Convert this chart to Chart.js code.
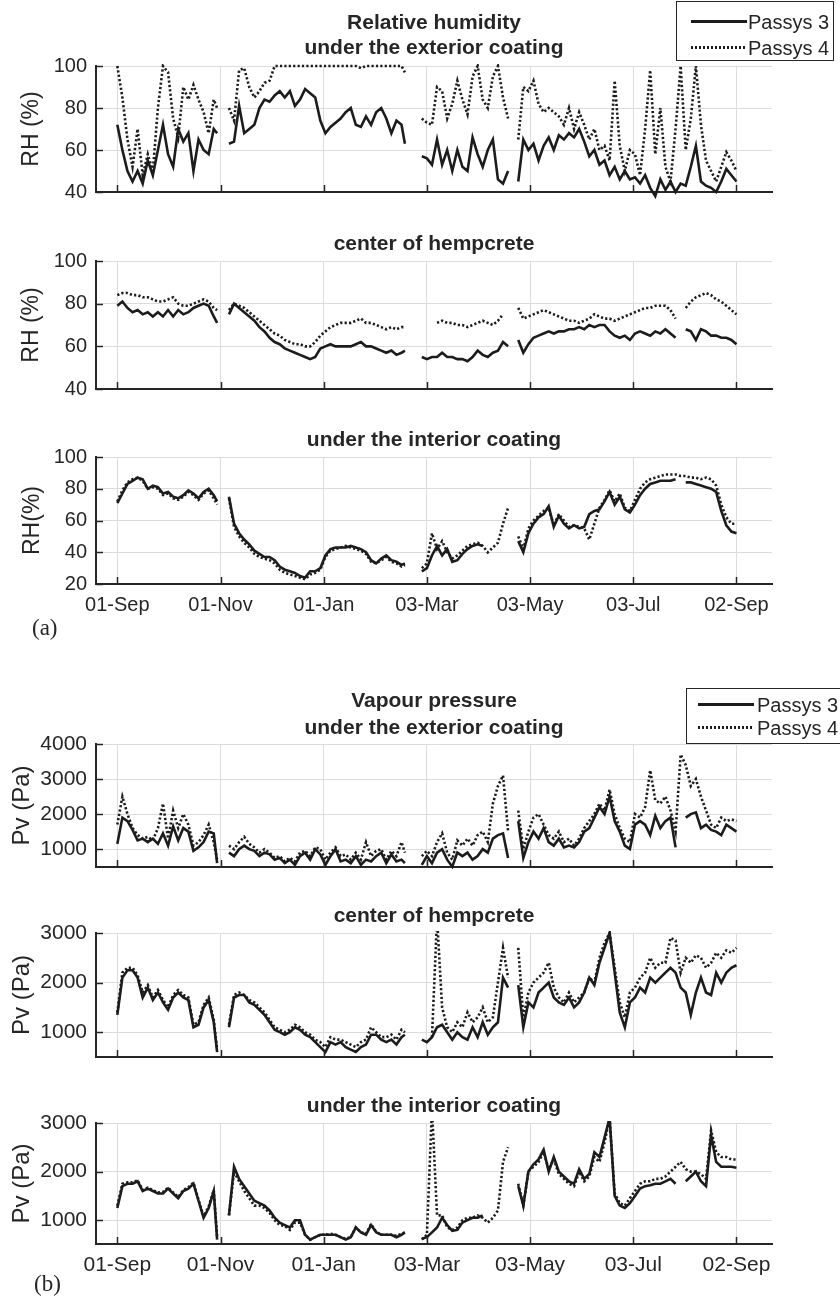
<!DOCTYPE html>
<html>
<head>
<meta charset="utf-8">
<script src="https://cdn.jsdelivr.net/npm/chart.js@4.4.1/dist/chart.umd.min.js"></script>
<style>
  body { margin: 0; background: #fff; }
  #page { position: relative; width: 840px; height: 1299px; overflow: hidden; background: #fff;
          font-family: "Liberation Sans", Arial, sans-serif; color: #262626; }
  canvas { position: absolute; left: 0; top: 0; }
  .title { position: absolute; left: 96px; width: 676px; text-align: center; font-weight: bold;
           font-size: 21px; line-height: 24px; height: 24px; white-space: nowrap; }
  .legend { position: absolute; border: 1.5px solid #262626; background: #fff; box-sizing: border-box; }
  .legend .row { position: absolute; left: 0; height: 24px; line-height: 24px; font-size: 20px; white-space: nowrap; }
  .legend .sample { position: absolute; top: 10px; height: 3px; }
  .legend .solid { background: #1c1c1c; }
  .legend .dotted { background: repeating-linear-gradient(90deg, #1c1c1c 0 2px, transparent 2px 4px); }
  .panel { position: absolute; font-family: "Liberation Serif", "Times New Roman", serif; font-size: 23px; }
</style>
</head>
<body>
<div id="page">
  <canvas id="c1" width="840" height="1299"></canvas>
  <canvas id="c2" width="840" height="1299"></canvas>
  <canvas id="c3" width="840" height="1299"></canvas>
  <canvas id="c4" width="840" height="1299"></canvas>
  <canvas id="c5" width="840" height="1299"></canvas>
  <canvas id="c6" width="840" height="1299"></canvas>

  <div class="title" style="top:10px">Relative humidity</div>
  <div class="title" style="top:35px">under the exterior coating</div>
  <div class="title" style="top:231px">center of hempcrete</div>
  <div class="title" style="top:427px">under the interior coating</div>
  <div class="title" style="top:688px">Vapour pressure</div>
  <div class="title" style="top:715px">under the exterior coating</div>
  <div class="title" style="top:903px">center of hempcrete</div>
  <div class="title" style="top:1093px">under the interior coating</div>

  <div class="legend" id="leg1" style="left:676px; top:1px; width:158px; height:60px;"></div>
  <div class="legend" id="leg2" style="left:686px; top:688px; width:170px; height:56px;"></div>

  <div class="panel" style="left:32px; top:615px;">(a)</div>
  <div class="panel" style="left:34px; top:1271px;">(b)</div>
</div>
<script>
// day number counted from 01-Sep; null rows split the measurement gaps
const days = [
  0, 3, 6, 9, 12, 15, 18, 21, 24, 27, 30, 33, 36, 39, 42, 45, 48, 51, 54, 57, 59,
  62,
  66, 69, 72, 75, 78, 81, 84, 87, 90, 93, 96, 99, 102, 105, 108, 111, 114, 117, 120, 123,
  126, 129, 132, 135, 138, 141, 144, 147, 150, 153, 156, 159, 162, 165, 168, 170,
  175,
  180, 183, 186, 189, 192, 195, 198, 201, 204, 207, 210, 213, 216, 219, 222, 225, 228, 231,
  234,
  237, 240, 243, 246, 249, 252, 255, 258, 261, 264, 267, 270, 273, 276, 279, 282, 285, 288,
  291, 294, 297, 300, 303, 306, 309, 312, 315, 318, 321, 324, 327, 330, 333, 336, 339, 342,
  345, 348, 351, 354, 357, 360, 363, 366
];
const xTickDays = [0, 61, 122, 183, 244, 305, 366];
const xTickLabels = ['01-Sep', '01-Nov', '01-Jan', '03-Mar', '03-May', '03-Jul', '02-Sep'];
const seriesNames = ['Passys 3', 'Passys 4'];

const rhTicks = [40, 60, 80, 100];
const rhIntTicks = [20, 40, 60, 80, 100];
const pvExtTicks = [1000, 2000, 3000, 4000];
const pvTicks = [1000, 2000, 3000];

// RH under the exterior coating
const rhExt3 = [
  72, 60, 50, 45, 50, 44, 55, 48, 60, 72, 58, 52, 70, 64, 68, 50, 65, 60, 58, 70, 68,
  null,
  63, 64, 81, 68, 70, 72, 80, 84, 83, 86, 88, 85, 88, 81, 84, 89, 87, 85, 74, 68,
  71, 73, 75, 78, 80, 72, 71, 76, 72, 78, 80, 75, 68, 74, 72, 63,
  null,
  57, 56, 53, 65, 53, 60, 50, 60, 52, 50, 66, 58, 52, 60, 65, 46, 44, 50,
  null,
  45, 65, 60, 63, 55, 62, 66, 60, 67, 65, 68, 66, 70, 64, 57, 60, 53, 55, 48, 52,
  46, 50, 46, 47, 44, 48, 42, 38, 46, 41, 45, 40, 44, 43, 52, 62, 45, 43, 42, 40,
  45, 51, 48, 45
];
const rhExt4 = [
  100, 85, 65, 52, 70, 48, 58, 50, 80, 100, 97, 75, 66, 90, 84, 91, 84, 78, 68, 84, 80,
  null,
  80, 74, 98, 99, 90, 85, 88, 92, 93, 100, 100, 100, 100, 100, 100, 100, 100, 100, 100, 100,
  100, 100, 100, 100, 100, 100, 99, 100, 100, 100, 100, 100, 100, 100, 100, 97,
  null,
  75, 73, 72, 90, 88, 75, 82, 93, 84, 77, 95, 100, 84, 80, 95, 100, 85, 75,
  null,
  65, 90, 88, 93, 82, 78, 80, 78, 76, 72, 80, 70, 78, 72, 65, 70, 60, 62, 55, 93,
  62, 50, 60, 58, 48, 70, 98, 58, 80, 52, 45, 70, 100, 60, 75, 100, 72, 55, 50, 45,
  52, 59, 55, 50
];

// RH at the center of hempcrete
const rhMid3 = [
  79, 81, 78, 76, 77, 75, 76, 74, 76, 74, 77, 74, 77, 75, 76, 78, 79, 80, 79, 74, 71,
  null,
  75, 80, 78, 76, 74, 72, 69, 67, 64, 62, 61, 59, 58, 57, 56, 55, 54, 55, 59, 60,
  61, 60, 60, 60, 60, 61, 62, 60, 60, 59, 58, 57, 58, 56, 57, 58,
  null,
  55, 54, 55, 55, 57, 55, 55, 54, 54, 53, 55, 58, 56, 55, 57, 58, 62, 60,
  null,
  63, 57, 61, 64, 65, 66, 67, 66, 67, 67, 68, 68, 69, 68, 70, 69, 70, 70, 67, 65,
  64, 65, 63, 66, 67, 66, 65, 67, 66, 68, 66, 64, null, 68, 67, 63, 68, 67, 65, 65,
  64, 64, 63, 61
];
const rhMid4 = [
  84, 85, 85, 84, 84, 83, 83, 82, 81, 81, 82, 83, 80, 79, 79, 80, 81, 82, 81, 78, 77,
  null,
  77, 80, 79, 78, 76, 74, 72, 70, 68, 66, 65, 63, 62, 61, 61, 60, 60, 62, 65, 67,
  69, 70, 71, 71, 71, 72, 73, 71, 71, 70, 69, 68, 69, 68, 69, 69,
  null,
  null, null, null, 71, 72, 71, 71, 70, 70, 69, 70, 71, 72, 71, 70, 72, 75, null,
  null,
  78, 73, 74, 75, 76, 77, 76, 75, 74, 73, 72, 72, 71, 72, 73, 75, 74, 73, 73, 72,
  73, 74, 75, 76, 77, 78, 78, 79, 79, 79, 77, 73, null, 78, 81, 83, 84, 85, 84, 82,
  81, 79, 77, 75
];

// RH under the interior coating
const rhInt3 = [
  71, 77, 83, 85, 87, 86, 80, 82, 81, 77, 78, 75, 74, 76, 79, 77, 74, 78, 80, 76, 72,
  null,
  75, 58, 52, 48, 45, 41, 39, 37, 37, 35, 31, 29, 28, 27, 25, 24, 28, 28, 30, 38,
  42, 43, 43, 43, 44, 43, 42, 40, 35, 33, 36, 38, 35, 34, 32, 33,
  null,
  28, 30, 38, 44, 38, 42, 34, 35, 39, 42, 44, 45, 44, null, null, null, null, null,
  null,
  47, 40, 52, 58, 62, 64, 69, 56, 63, 58, 55, 57, 55, 56, 64, 66, 67, 72, 78, 70,
  75, 67, 65, 70, 76, 80, 83, 84, 85, 85, 85, 86, null, 84, 84, 83, 82, 81, 80, 78,
  66, 57, 53, 52
];
const rhInt4 = [
  72, 79, 84, 86, 87, 85, 80, 81, 80, 76, 77, 74, 73, 75, 78, 76, 73, 77, 79, 74, 70,
  null,
  74, 56, 50, 46, 43, 39, 37, 36, 35, 33, 29, 27, 26, 25, 24, 23, 26, 27, 29, 37,
  41, 42, 43, 44, 43, 42, 41, 39, 34, 33, 35, 37, 34, 33, 31, 32,
  null,
  30, 33, 52, 42, 47, 40, 36, 38, 41, 44, 45, 46, 44, 40, 43, 46, 58, 68,
  null,
  50, 42, 55, 60, 63, 66, 68, 57, 64, 60, 56, 57, 56, 55, 48, 58, 68, 73, 79, 72,
  77, 68, 66, 73, 80, 84, 86, 87, 88, 89, 89, 89, 88, 88, 87, 87, 86, 87, 86, 82,
  70, 62, 58, 58
];

// vapour pressure under the exterior coating
const pvExt3 = [
  1150, 1900, 1800, 1550, 1250, 1300, 1200, 1300, 1150, 1450,
  1100, 1650, 1250, 1600, 1500, 950, 1050, 1200, 1500, 1450, 600,
  null,
  900, 800, 1000, 1100, 1000, 950, 800, 900, 850, 700, 750, 600, 700, 550, 800, 900, 700, 1000,
  850, 550, 800, 1000, 650, 700, 600, 800, 550, 700, 650, 800, 900, 600, 850, 650, 700, 600,
  null,
  550, 800, 600, 900, 1000, 700, 500, 900, 800, 900, 700, 800, 1000, 900, 1300, 1400, 1450, 750,
  null,
  1800, 750, 1200, 1500, 1300, 1600, 1200, 1100, 1300, 1050, 1100, 1050, 1200, 1500, 1600,
  1900, 2200, 2000, 2500, 1800, 1500, 1100, 1000, 1700, 1800, 1700, 1400, 1950, 1600, 1800,
  1900, 1050, null, 1900, 2000, 2050, 1600, 1700, 1550, 1500, 1400, 1700, 1600, 1500
];
const pvExt4 = [
  1700, 2500, 2000, 1600, 1400, 1300, 1350, 1250, 1600, 2300,
  1300, 2100, 1600, 2000, 1700, 1100, 1200, 1400, 1700, 1200, 700,
  null,
  1100, 1000, 1200, 1350, 1150, 1050, 900, 1000, 900, 750, 800, 650, 750, 650, 900, 950, 800,
  1050, 1000, 700, 900, 1050, 800, 850, 700, 900, 700, 1200, 800, 950, 1000, 700, 950, 800,
  1200, 900,
  null,
  800, 950, 800, 1200, 1450, 900, 700, 1250, 1100, 1300, 1100, 1400, 1500, 1200, 2300, 2800,
  3100, 1500,
  null,
  2100, 1000, 1500, 1900, 2000, 1700, 1400, 1300, 1500, 1200, 1300, 1100, 1300, 1600, 1800,
  2000, 2300, 2100, 2700, 2000, 1600, 1300, 1200, 2000, 1900, 2200, 3250, 2400, 2300, 2500,
  2100, 1500, 3700, 3400, 2800, 3000, 2500, 2100, 1700, 1600, 1900, 1800, 1850, 1800
];

// vapour pressure at the center of hempcrete
const pvMid3 = [
  1350, 2100, 2250, 2250, 2100, 1700, 1900, 1650, 1800, 1600,
  1450, 1700, 1800, 1700, 1650, 1100, 1150, 1500, 1650, 1200, 600,
  null,
  1100, 1700, 1750, 1750, 1600, 1550, 1450, 1350, 1200, 1050, 1000, 950, 1000, 1100, 1050,
  950, 900, 800, 700, 600, 800, 750, 800, 700, 650, 600, 700, 750, 950, 950, 850, 800, 850,
  750, 900, 950,
  null,
  850, 800, 900, 1100, 1150, 1000, 850, 1000, 900, 850, 1100, 900, 1200, 950, 1100, 1200,
  2100, 1900,
  null,
  1950, 1100, 1600, 1500, 1800, 1900, 2000, 1700, 1600, 1550, 1700, 1500, 1600, 1800, 2100,
  1950, 2400, 2700, 3000, 2200, 1400, 1100, 1600, 1700, 1900, 1800, 2100, 2000, 2100, 2200,
  2300, 2200, 1900, 1800, 1350, 1800, 2100, 1800, 1750, 2200, 2000, 2200, 2300, 2350
];
const pvMid4 = [
  1400, 2200, 2300, 2300, 2150, 1800, 1950, 1700, 1850, 1650,
  1500, 1750, 1850, 1750, 1700, 1150, 1200, 1550, 1700, 1250, 650,
  null,
  1150, 1750, 1800, 1750, 1650, 1600, 1500, 1400, 1250, 1100, 1050, 1000, 1050, 1150, 1100,
  1000, 950, 850, 800, 700, 900, 850, 850, 800, 750, 700, 800, 850, 1100, 1000, 900, 900, 950,
  850, 1050, 1000,
  null,
  null, null, 900, 3300, 1500, 1100, 1000, 1200, 1100, 1400, 1200, 1300, 1500, 1200, 1300,
  2000, 2700, 2100,
  null,
  2700, 1300, 1800, 2000, 2100, 2200, 2400, 1900, 1700, 1600, 1800, 1600, 1700, 1800, 2100,
  2000, 2500, 2800, 3000, 2300, 1600, 1300, 1800, 1900, 2100, 2200, 2500, 2300, 2400, 2400,
  2900, 2850, 2200, 2500, 2400, 2550, 2500, 2300, 2400, 2600, 2500, 2650, 2600, 2700
];

// vapour pressure under the interior coating
const pvInt3 = [
  1250, 1700, 1750, 1750, 1800, 1600, 1650, 1600, 1550, 1550,
  1650, 1550, 1450, 1600, 1650, 1750, 1400, 1050, 1250, 1600, 600,
  null,
  1100, 2100, 1850, 1700, 1550, 1400, 1350, 1300, 1200, 1050, 950, 900, 850, 1000, 1000, 700,
  600, 650, 700, 700, 700, 700, 650, 600, 650, 850, 750, 700, 900, 750, 700, 700, 700, 650,
  700, 750,
  null,
  620, 650, 750, 850, 1050, 900, 780, 800, 950, 1000, 1050, 1050, 1100, null, null, null,
  null, null,
  null,
  1700, 1300, 2000, 2150, 2250, 2450, 2000, 2300, 2000, 1900, 1800, 1750, 2050, 1850, 1950,
  2400, 2300, 2700, 3100, 1500, 1300, 1250, 1350, 1500, 1650, 1700, 1720, 1750, 1750, 1800,
  1850, 1750, null, 1800, 1900, 2000, 1800, 1700, 2750, 2200, 2100, 2100, 2100, 2080
];
const pvInt4 = [
  1300, 1750, 1780, 1780, 1820, 1620, 1670, 1620, 1570, 1580,
  1670, 1570, 1480, 1620, 1680, 1770, 1420, 1080, 1280, 1620, 650,
  null,
  1100, 2000, 1800, 1600, 1450, 1300, 1300, 1250, 1150, 1000, 900, 880, 800, 950, 950, 700,
  600, 650, 700, 700, 720, 700, 650, 620, 650, 850, 750, 720, 920, 760, 700, 700, 700, 680,
  720, 750,
  null,
  600, 700, 3300, 1100, 1100, 850, 800, 850, 1000, 1050, 1050, 1100, 1050, 950, 1050, 1200,
  2200, 2500,
  null,
  1750, 1300, 2000, 2100, 2200, 2400, 2050, 2250, 1950, 1850, 1750, 1700, 2000, 1800, 1900,
  2300, 2200, 2600, 3100, 1550, 1350, 1300, 1450, 1600, 1750, 1800, 1800, 1850, 1850, 1900,
  2000, 2100, 2200, 2050, 2000, 2000, 1950, 1850, 2850, 2400, 2300, 2300, 2250, 2250
];

const H = 1299;
const X_MIN = -12.6, X_MAX = 387;
const INK = '#262626';
const LINE = '#1c1c1c';
const FONT = '"Liberation Sans", Arial, sans-serif';
Chart.defaults.font.family = FONT;
Chart.defaults.color = INK;

const panels = [
  { id: 'c1', s3: rhExt3, s4: rhExt4, top: 66, bottom: 192, yMin: 40, yMax: 100, yTicks: rhTicks,
    yTitle: 'RH (%)', showX: false, tick: 20, yt: 23, ytPad: 18, clipBottom: 10 },
  { id: 'c2', s3: rhMid3, s4: rhMid4, top: 261, bottom: 389, yMin: 40, yMax: 100, yTicks: rhTicks,
    yTitle: 'RH (%)', showX: false, tick: 20, yt: 23, ytPad: 18, clipBottom: 2 },
  { id: 'c3', s3: rhInt3, s4: rhInt4, top: 457, bottom: 584, yMin: 20, yMax: 100, yTicks: rhIntTicks,
    yTitle: 'RH(%)', showX: true, tick: 20, yt: 23, ytPad: 19, clipBottom: 2 },
  { id: 'c4', s3: pvExt3, s4: pvExt4, top: 744, bottom: 867, yMin: 490, yMax: 4000, yTicks: pvExtTicks,
    yTitle: 'Pv (Pa)', showX: false, tick: 21, yt: 24, ytPad: 8, clipBottom: 2 },
  { id: 'c5', s3: pvMid3, s4: pvMid4, top: 933, bottom: 1057, yMin: 500, yMax: 3000, yTicks: pvTicks,
    yTitle: 'Pv (Pa)', showX: false, tick: 21, yt: 24, ytPad: 8, clipBottom: 2 },
  { id: 'c6', s3: pvInt3, s4: pvInt4, top: 1123, bottom: 1244, yMin: 510, yMax: 3000, yTicks: pvTicks,
    yTitle: 'Pv (Pa)', showX: true, tick: 21, yt: 24, ytPad: 8, clipBottom: 2 }
];

// MATLAB style: short tick marks pointing into the axes
const innerTicks = {
  id: 'innerTicks',
  afterDraw(chart) {
    const { ctx, chartArea: a, scales: { x, y } } = chart;
    ctx.save();
    ctx.strokeStyle = INK;
    ctx.lineWidth = 1.5;
    ctx.beginPath();
    x.ticks.forEach(t => {
      const px = Math.round(x.getPixelForValue(t.value)) + 0.5;
      ctx.moveTo(px, a.bottom);
      ctx.lineTo(px, a.bottom - 7);
    });
    y.ticks.forEach(t => {
      const py = Math.round(y.getPixelForValue(t.value)) + 0.5;
      ctx.moveTo(a.left, py);
      ctx.lineTo(a.left + 7, py);
    });
    ctx.stroke();
    ctx.restore();
  }
};

function toPoints(values) {
  return days.map((d, i) => ({ x: d, y: values[i] }));
}

function makeChart(p) {
  if (p.s3.length !== days.length || p.s4.length !== days.length) {
    console.error('length mismatch', p.id, p.s3.length, p.s4.length, days.length);
  }
  const clip = { left: 2, right: 2, top: 2, bottom: p.clipBottom };
  const pad = { top: p.top - 12, bottom: H - p.bottom - 40, left: 0, right: 68 };
  const chart = new Chart(document.getElementById(p.id), {
    type: 'line',
    data: {
      datasets: [
        { label: seriesNames[0], data: toPoints(p.s3), borderColor: LINE, borderWidth: 2.6,
          pointRadius: 0, tension: 0, spanGaps: false, clip: clip },
        { label: seriesNames[1], data: toPoints(p.s4), borderColor: LINE, borderWidth: 2.6,
          borderDash: [2.2, 2.2], pointRadius: 0, tension: 0, spanGaps: false, clip: clip }
      ]
    },
    options: {
      responsive: false,
      animation: false,
      events: [],
      layout: { padding: pad },
      plugins: { legend: { display: false }, tooltip: { enabled: false } },
      scales: {
        x: {
          type: 'linear', min: X_MIN, max: X_MAX,
          afterFit: s => { s.height = 40; },
          afterBuildTicks: s => { s.ticks = xTickDays.map(v => ({ value: v })); },
          ticks: {
            display: p.showX, autoSkip: false, maxRotation: 0, padding: 9,
            font: { size: p.tick }, color: INK,
            callback: v => xTickLabels[xTickDays.indexOf(v)]
          },
          grid: { color: '#dcdcdc', lineWidth: 1, drawTicks: false },
          border: { color: INK, width: 2 }
        },
        y: {
          min: p.yMin, max: p.yMax,
          afterFit: s => { s.width = 96; },
          afterBuildTicks: s => { s.ticks = p.yTicks.map(v => ({ value: v })); },
          ticks: { font: { size: p.tick }, color: INK, padding: 9, callback: v => String(v) },
          grid: { color: '#dcdcdc', lineWidth: 1, drawTicks: false },
          border: { color: INK, width: 2 },
          title: { display: true, text: p.yTitle, color: INK, font: { size: p.yt },
                   padding: { top: p.ytPad, bottom: 0 } }
        }
      }
    },
    plugins: [innerTicks]
  });

  // nudge the padding so the plot area lands where it is in the figure
  const a = chart.chartArea;
  chart.options.layout.padding = {
    top: pad.top + (p.top - a.top),
    bottom: pad.bottom + (a.bottom - p.bottom),
    left: 0, right: 68
  };
  chart.update();
  return chart;
}

panels.forEach(makeChart);

function buildLegend(el, lineLeft, lineWidth, textLeft, rowTops) {
  const styles = ['solid', 'dotted'];
  seriesNames.forEach((name, i) => {
    const row = document.createElement('div');
    row.className = 'row';
    row.style.top = rowTops[i] + 'px';
    row.style.width = '100%';
    const sample = document.createElement('div');
    sample.className = 'sample ' + styles[i];
    sample.style.left = lineLeft + 'px';
    sample.style.width = lineWidth + 'px';
    const label = document.createElement('span');
    label.textContent = name;
    label.style.position = 'absolute';
    label.style.left = textLeft + 'px';
    row.appendChild(sample);
    row.appendChild(label);
    el.appendChild(row);
  });
}
buildLegend(document.getElementById('leg1'), 14, 56, 71, [8, 34]);
buildLegend(document.getElementById('leg2'), 11, 56, 70, [4, 27]);
</script>
</body>
</html>
